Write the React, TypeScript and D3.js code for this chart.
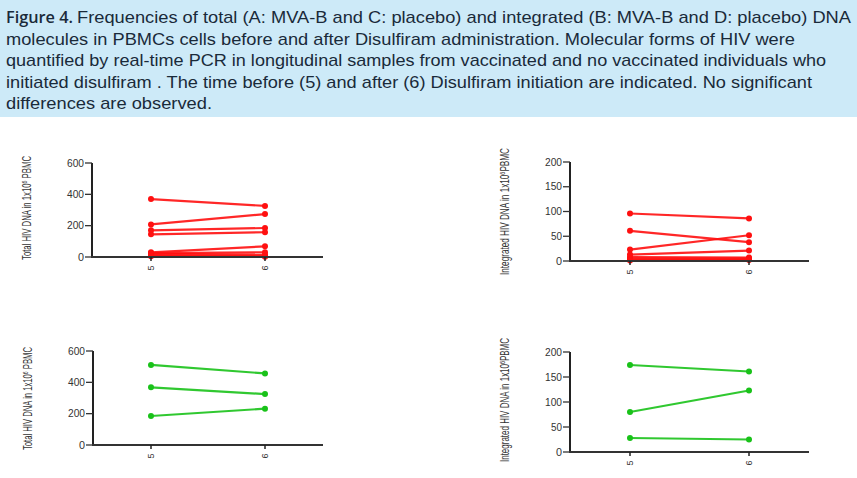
import React from "react";
import * as d3 from "d3";

const captionLines = [
  "Frequencies of total (A: MVA-B and C: placebo) and integrated (B: MVA-B and D: placebo) DNA",
  "molecules in PBMCs cells before and after Disulfiram administration. Molecular forms of HIV were",
  "quantified by real-time PCR in longitudinal samples from vaccinated and no vaccinated individuals who",
  "initiated disulfiram . The time before (5) and after (6) Disulfiram initiation are indicated. No significant",
  "differences are observed.",
];
const captionEnds = [851, 795, 826, 812, 212];

const timePoints = ["5", "6"];

// Panel A: total HIV DNA, MVA-B
const totalMvaBefore = [370, 208, 170, 145, 30, 25, 20, 10, 5];
const totalMvaAfter = [326, 274, 185, 158, 68, 30, 15, 5, 2];
// Panel B: integrated HIV DNA, MVA-B
const intMvaBefore = [96, 61, 23, 13, 8, 5, 3, 1];
const intMvaAfter = [86, 38, 52, 21, 7, 5, 3, 2];
// Panel C: total HIV DNA, placebo
const totalPlaBefore = [511, 368, 185];
const totalPlaAfter = [457, 325, 232];
// Panel D: integrated HIV DNA, placebo
const intPlaBefore = [174, 80, 28];
const intPlaAfter = [161, 123, 25];

const totalTicks = [0, 200, 400, 600];
const intTicks = [0, 50, 100, 150, 200];

type PanelProps = {
  before: number[];
  after: number[];
  ticks: number[];
  max: number;
  x0: number;
  x1: number;
  yTop: number;
  yBot: number;
  px: [number, number];
  color: string;
  label: string;
  labelX: number;
  labelTop: number;
  labelBot: number;
};

function Panel(p: PanelProps) {
  const y = d3.scaleLinear().domain([0, p.max]).range([p.yBot, p.yTop]);
  const x = d3.scalePoint<string>().domain(timePoints).range(p.px);
  const line = d3
    .line<[string, number]>()
    .x((d) => x(d[0]) as number)
    .y((d) => y(d[1]));
  const labelLen = p.labelBot - p.labelTop;
  const labelMid = (p.labelBot + p.labelTop) / 2;
  return (
    <g>
      {p.before.map((b, i) => {
        const pts: [string, number][] = [
          ["5", b],
          ["6", p.after[i]],
        ];
        return (
          <g key={i}>
            <path d={line(pts) || ""} stroke={p.color} strokeWidth={2.2} fill="none" opacity={0.9} />
            {pts.map((d, j) => (
              <circle key={j} cx={x(d[0])} cy={y(d[1])} r={3} fill={p.color} />
            ))}
          </g>
        );
      })}
      {/* y axis */}
      <line x1={p.x0} x2={p.x0} y1={p.yTop} y2={p.yBot} stroke="#222" strokeWidth={2} />
      {p.ticks.map((t) => (
        <g key={t}>
          <line x1={p.x0 - 7} x2={p.x0} y1={y(t)} y2={y(t)} stroke="#333" strokeWidth={1.3} />
          <text
            x={p.x0 - 8}
            y={y(t)}
            dy="0.35em"
            textAnchor="end"
            fontSize={10}
            fontFamily="Liberation Sans, Arial, sans-serif"
            fill="#333"
            textLength={t >= 100 ? 17 : t >= 10 ? 11 : 6}
            lengthAdjust="spacingAndGlyphs"
          >
            {t}
          </text>
        </g>
      ))}
      {/* x axis */}
      <line x1={p.x0 - 1} x2={p.x1} y1={p.yBot} y2={p.yBot} stroke="#333" strokeWidth={2} />
      {timePoints.map((t) => (
        <g key={t}>
          <line x1={x(t)} x2={x(t)} y1={p.yBot} y2={p.yBot + 4} stroke="#222" strokeWidth={1.5} />
          <text
            transform={`translate(${x(t)},${p.yBot + 11}) rotate(-90)`}
            textAnchor="middle"
            dy="0.35em"
            fontSize={9}
            fontFamily="Liberation Sans, Arial, sans-serif"
            fill="#333"
          >
            {t}
          </text>
        </g>
      ))}
      {/* y label */}
      <text
        transform={`translate(${p.labelX},${labelMid}) rotate(-90)`}
        textAnchor="middle"
        dy="0.35em"
        fontSize={12}
        fontFamily="Liberation Sans, Arial, sans-serif"
        fill="#333"
        textLength={labelLen}
        lengthAdjust="spacingAndGlyphs"
      >
        {p.label.split("^6").map((s, i) =>
          i === 0 ? (
            <tspan key={i}>{s}</tspan>
          ) : (
            <React.Fragment key={i}>
              <tspan dy="-4" fontSize={8}>6</tspan>
              <tspan dy="4">{s}</tspan>
            </React.Fragment>
          )
        )}
      </text>
    </g>
  );
}

export default function App() {
  const red = "#ff1010";
  const green = "#19c219";
  return (
    <svg
      width={857}
      height={478}
      style={{ position: "absolute", left: 0, top: 0, background: "#fff" }}
    >
      <rect x={0} y={0} width={857} height={117} fill="#cdeaf8" />
      <text
        x={6}
        y={23}
        fontSize={17}
        fontFamily="Open Sans, Lato, sans-serif"
        fontWeight={600}
        fill="#1a2a3a"
        textLength={67}
        lengthAdjust="spacingAndGlyphs"
      >
        Figure 4.
      </text>
      {captionLines.map((l, i) => {
        const start = i === 0 ? 77 : 6;
        return (
          <text
            key={i}
            x={start}
            y={23 + i * 21.5}
            fontSize={17}
            fontFamily="Liberation Sans, Arial, sans-serif"
            fill="#1a2a3a"
            textLength={captionEnds[i] - start}
            lengthAdjust="spacingAndGlyphs"
          >
            {l}
          </text>
        );
      })}
      <Panel
        before={totalMvaBefore}
        after={totalMvaAfter}
        ticks={totalTicks}
        max={600}
        x0={92}
        x1={323}
        yTop={163}
        yBot={257}
        px={[151, 265]}
        color={red}
        label="Total HIV DNA in 1x10^6 PBMC"
        labelX={27}
        labelTop={156}
        labelBot={260}
      />
      <Panel
        before={intMvaBefore}
        after={intMvaAfter}
        ticks={intTicks}
        max={200}
        x0={570}
        x1={809}
        yTop={162}
        yBot={261}
        px={[630, 749]}
        color={red}
        label="Integrated HIV DNA in 1x10^6PBMC"
        labelX={505}
        labelTop={148}
        labelBot={275}
      />
      <Panel
        before={totalPlaBefore}
        after={totalPlaAfter}
        ticks={totalTicks}
        max={600}
        x0={93}
        x1={323}
        yTop={351}
        yBot={445}
        px={[151, 265]}
        color={green}
        label="Total HIV DNA in 1x10^6 PBMC"
        labelX={28}
        labelTop={347}
        labelBot={450}
      />
      <Panel
        before={intPlaBefore}
        after={intPlaAfter}
        ticks={intTicks}
        max={200}
        x0={570}
        x1={809}
        yTop={352}
        yBot={452}
        px={[630, 749]}
        color={green}
        label="Integrated HIV DNA in 1x10^6PBMC"
        labelX={505}
        labelTop={338}
        labelBot={462}
      />
    </svg>
  );
}
